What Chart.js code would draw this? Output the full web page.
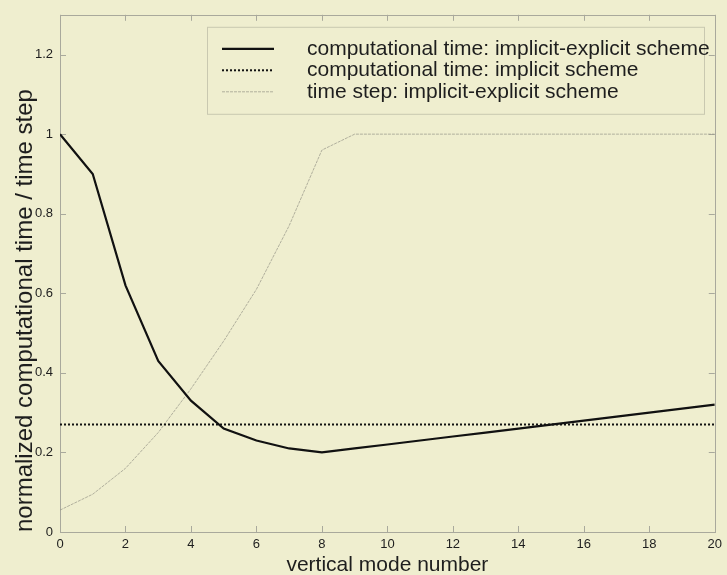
<!DOCTYPE html>
<html><head><meta charset="utf-8">
<script src="https://cdn.jsdelivr.net/npm/chart.js@4/dist/chart.umd.min.js"></script>
<style>html,body{margin:0;padding:0;background:#efeecf;} #wrap{width:727px;height:575px;}</style>
</head><body><div id="wrap"><canvas id="c" width="727" height="575"></canvas></div>
<script>
const modes = [0,1,2,3,4,5,6,7,8,9,10,11,12,13,14,15,16,17,18,19,20];
const ctImplicitExplicit = [1.00,0.90,0.62,0.43,0.33,0.26,0.23,0.21,0.20,0.21,0.22,0.23,0.24,0.25,0.26,0.27,0.28,0.29,0.30,0.31,0.32];
const ctImplicit = [0.27,0.27,0.27,0.27,0.27,0.27,0.27,0.27,0.27,0.27,0.27,0.27,0.27,0.27,0.27,0.27,0.27,0.27,0.27,0.27,0.27];
const timeStep = [0.055,0.095,0.16,0.25,0.36,0.48,0.61,0.77,0.96,1.0,1.0,1.0,1.0,1.0,1.0,1.0,1.0,1.0,1.0,1.0,1.0];
const xTicks = [0,2,4,6,8,10,12,14,16,18,20];
const yTicks = [0,0.2,0.4,0.6,0.8,1.0,1.2];
const seriesLabels = ['computational time: implicit-explicit scheme','computational time: implicit scheme','time step: implicit-explicit scheme'];

const BG = '#efeecf';
const AXIS = '#a9a99c';
const FONT = "'Liberation Sans', Arial, Helvetica, sans-serif";

const pts = arr => modes.map((m,i)=>({x:m,y:arr[i]}));

const bgPlugin = {
  id:'bg',
  beforeDraw(chart){
    const c = chart.ctx; c.save(); c.fillStyle = BG; c.fillRect(0,0,chart.width,chart.height); c.restore();
  }
};

const boxPlugin = {
  id:'box',
  beforeDatasetsDraw(chart){
    const {ctx, chartArea:a, scales:{x,y}} = chart;
    ctx.save();
    ctx.strokeStyle = AXIS; ctx.lineWidth = 1;
    ctx.strokeRect(Math.round(a.left)+0.5, Math.round(a.top)+0.5, Math.round(a.right-a.left), Math.round(a.bottom-a.top));
    const L = 6;
    ctx.beginPath();
    x.ticks.forEach(t=>{
      const px = Math.round(x.getPixelForValue(t.value))+0.5;
      ctx.moveTo(px,a.bottom); ctx.lineTo(px,a.bottom-L);
      ctx.moveTo(px,a.top); ctx.lineTo(px,a.top+L);
    });
    y.ticks.forEach(t=>{
      const py = Math.round(y.getPixelForValue(t.value))+0.5;
      ctx.moveTo(a.left,py); ctx.lineTo(a.left+L,py);
      ctx.moveTo(a.right,py); ctx.lineTo(a.right-L,py);
    });
    ctx.stroke();
    ctx.restore();
  }
};

const legendPlugin = {
  id:'customLegend',
  afterDraw(chart){
    const {ctx, chartArea:a} = chart;
    const bx = a.left + 147, by = a.top + 12, bw = 497, bh = 87;
    ctx.save();
    ctx.fillStyle = BG;
    ctx.fillRect(bx, by, bw, bh);
    ctx.strokeStyle = '#c9c8b0'; ctx.lineWidth = 1;
    ctx.strokeRect(bx+0.5, by+0.5, bw, bh);
    chart.data.datasets.forEach((ds,i)=>{
      const yy = by + 22 + i*21.5;
      ctx.save();
      ctx.strokeStyle = ds.borderColor; ctx.lineWidth = ds.borderWidth;
      ctx.setLineDash(ds.borderDash || []);
      ctx.beginPath(); ctx.moveTo(bx+15, yy); ctx.lineTo(bx+67, yy); ctx.stroke();
      ctx.restore();
      ctx.fillStyle = '#1e1e1e';
      ctx.font = "21px " + FONT;
      ctx.textBaseline = 'middle';
      ctx.fillText(ds.label, bx+100, yy);
    });
    ctx.restore();
  }
};

new Chart(document.getElementById('c'), {
  type:'line',
  data:{
    datasets:[
      {label:seriesLabels[0], data:pts(ctImplicitExplicit), borderColor:'#111111', borderWidth:2.2, pointRadius:0, fill:false, tension:0},
      {label:seriesLabels[1], data:pts(ctImplicit), borderColor:'#111111', borderWidth:2, borderDash:[2,2], pointRadius:0, fill:false, tension:0},
      {label:seriesLabels[2], data:pts(timeStep), borderColor:'rgba(150,148,135,0.7)', borderWidth:1, borderDash:[3,1], pointRadius:0, fill:false, tension:0}
    ]
  },
  options:{
    responsive:false,
    devicePixelRatio:1,
    animation:false,
    layout:{padding:{left:0, top:12, right:10, bottom:0}},
    plugins:{legend:{display:false}, tooltip:{enabled:false}},
    scales:{
      x:{
        type:'linear', min:0, max:20,
        afterBuildTicks: s => { s.ticks = xTicks.map(v=>({value:v})); },
        afterFit: s => { s.height = 43; },
        grid:{display:false, drawTicks:false},
        border:{display:false},
        ticks:{color:'#1e1e1e', font:{family:FONT, size:13}, padding:5, maxRotation:0, autoSkip:false, callback:v=>String(v)},
        title:{display:true, text:'vertical mode number', color:'#1e1e1e', font:{family:FONT, size:21, lineHeight:1}, padding:{top:0,bottom:-1}}
      },
      y:{
        type:'linear', min:0, max:1.3,
        afterBuildTicks: s => { s.ticks = yTicks.map(v=>({value:v})); },
        afterFit: s => { s.width = 60; },
        grid:{display:false, drawTicks:false},
        border:{display:false},
        ticks:{color:'#1e1e1e', font:{family:FONT, size:13}, padding:7, autoSkip:false, callback:v=>String(+(+v).toFixed(1))},
        title:{display:true, align:'start', text:'normalized computational time / time step', color:'#1e1e1e', font:{family:FONT, size:24, lineHeight:1}, padding:{top:13,bottom:0}}
      }
    }
  },
  plugins:[bgPlugin, boxPlugin, legendPlugin]
});
</script>
</body></html>
